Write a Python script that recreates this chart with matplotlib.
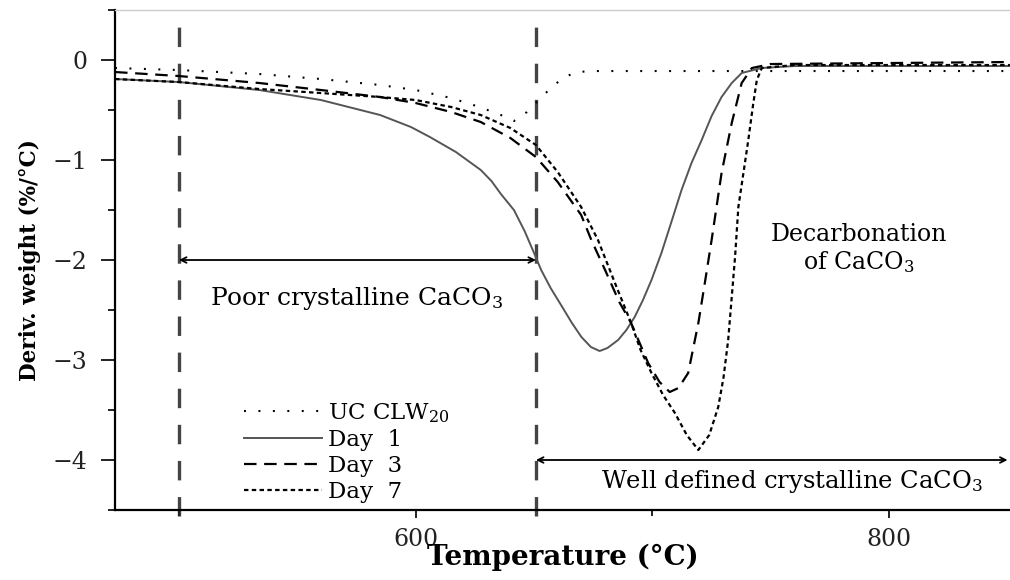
import matplotlib
matplotlib.use("Agg")
import matplotlib.pyplot as plt
from matplotlib.ticker import MultipleLocator

plt.rcParams['font.family'] = ['DejaVu Serif']
plt.rcParams['mathtext.fontset'] = 'dejavuserif'
plt.rcParams['lines.scale_dashes'] = False

# ---- data (temperature in °C, derivative weight in %/°C) ----
uc_T = [473, 500, 534, 560, 585, 600, 615, 627, 636, 641.5, 647, 654, 659, 663, 668, 675, 700, 851]
uc_D = [-0.08, -0.10, -0.14, -0.19, -0.25, -0.30, -0.38, -0.47, -0.55, -0.61, -0.52, -0.35, -0.24, -0.17, -0.12, -0.11, -0.11, -0.11]

d1_T = [473, 500, 534, 560, 585, 598, 606, 617, 627.5, 632, 636, 641.5, 646, 650, 653, 657, 661.4, 666, 670, 674, 677.7,
        681, 685.5, 689, 692.5, 696, 699.6, 703.8, 708, 712.3, 716.5, 720.8, 725, 729.2, 733.5, 737.7, 746, 760, 851]
d1_D = [-0.19, -0.22, -0.30, -0.40, -0.55, -0.67, -0.77, -0.92, -1.10, -1.21, -1.34, -1.50, -1.71, -1.93, -2.10, -2.28, -2.45, -2.63, -2.77, -2.87, -2.91,
        -2.88, -2.80, -2.70, -2.57, -2.40, -2.20, -1.93, -1.62, -1.30, -1.03, -0.80, -0.56, -0.37, -0.23, -0.13, -0.08, -0.06, -0.06]

d3_T = [473, 500, 534, 560, 585, 600, 615, 627.5, 640, 650.8, 660, 669.9, 674.2, 680, 686, 691, 698.2, 703, 707.3,
        711, 715.1, 719.4, 722, 725, 729.2, 733.5, 737.7, 742, 750, 851]
d3_D = [-0.12, -0.16, -0.23, -0.30, -0.37, -0.43, -0.52, -0.62, -0.78, -0.97, -1.22, -1.55, -1.80, -2.10, -2.42, -2.63, -3.03, -3.22, -3.32,
        -3.28, -3.13, -2.63, -2.25, -1.80, -1.13, -0.63, -0.23, -0.08, -0.04, -0.02]

d7_T = [473, 500, 534, 560, 585, 600, 615, 627.5, 640, 650.8, 660, 669.9, 677, 684, 691, 695, 699.6, 704.5, 709.5, 714.5, 719.4,
        724, 727.8, 730, 732, 734.9, 736.3, 738.5, 740.5, 742.5, 744.1, 746.2, 760, 851]
d7_D = [-0.19, -0.22, -0.29, -0.33, -0.37, -0.40, -0.47, -0.55, -0.68, -0.85, -1.12, -1.47, -1.80, -2.22, -2.63, -2.90, -3.13, -3.35, -3.53, -3.75, -3.90,
        -3.75, -3.47, -3.18, -2.80, -1.97, -1.47, -1.12, -0.80, -0.45, -0.20, -0.08, -0.05, -0.05]

labels = [r'UC CLW$_{20}$', 'Day  1', 'Day  3', 'Day  7']
boundaries = [500, 650.8]

fig = plt.figure(figsize=(10.1, 5.8), dpi=100)
ax = fig.add_axes([0.1139, 0.1207, 0.886, 0.862])

ax.plot(uc_T, uc_D, color='black', lw=1.5, dashes=(1.4, 9.0), label=labels[0])
ax.plot(d1_T, d1_D, color='#555555', lw=1.4, label=labels[1])
ax.plot(d3_T, d3_D, color='black', lw=1.6, dashes=(9.0, 5.5), label=labels[2])
ax.plot(d7_T, d7_D, color='black', lw=1.6, dashes=(3.2, 2.4), label=labels[3])

for b in boundaries:
    ax.axvline(b, color='#444444', lw=2.4, dashes=(14, 12), zorder=1, clip_on=False,
               ymin=-0.012, ymax=1.0)

ax.set_xlim(473, 851)
ax.set_ylim(-4.5, 0.5)
ax.xaxis.set_major_locator(MultipleLocator(200))
ax.xaxis.set_minor_locator(MultipleLocator(100))
ax.yaxis.set_major_locator(MultipleLocator(1))
ax.yaxis.set_minor_locator(MultipleLocator(0.5))
ax.tick_params(which='both', direction='out', width=1.4, labelsize=17, colors='#222222')
ax.tick_params(axis='y', which='major', length=10, pad=10)
ax.tick_params(axis='y', which='minor', length=5)
ax.tick_params(axis='x', which='major', length=6, pad=7)
ax.tick_params(axis='x', which='minor', length=4)
for s in ['left', 'bottom']:
    ax.spines[s].set_linewidth(1.6)
ax.spines['right'].set_visible(False)
ax.spines['top'].set_color('#cccccc')
ax.spines['top'].set_linewidth(1.0)

ax.set_xlabel('Temperature (°C)', fontsize=20, fontweight='bold', labelpad=-5)
ax.set_ylabel('Deriv. weight (%/°C)', fontsize=15.5, fontweight='bold', labelpad=8)

# annotations
ax.annotate('', xy=(500, -2.0), xytext=(650.8, -2.0),
            arrowprops=dict(arrowstyle='<->', color='black', lw=1.3, shrinkA=0, shrinkB=0))
ax.text(575, -2.38, r'Poor crystalline CaCO$_3$', fontsize=18, ha='center', va='center')
ax.annotate('', xy=(650.8, -4.0), xytext=(850, -4.0),
            arrowprops=dict(arrowstyle='<->', color='black', lw=1.3, shrinkA=0, shrinkB=0))
ax.text(759, -4.22, r'Well defined crystalline CaCO$_3$', fontsize=17.5, ha='center', va='center')
ax.text(787, -1.89, 'Decarbonation\n' + r'of CaCO$_3$', fontsize=17, ha='center', va='center',
        linespacing=1.15)

leg = ax.legend(loc='upper left', bbox_to_anchor=(0.134, 0.236), frameon=False, fontsize=16.5,
                handlelength=3.4, handletextpad=0.25, labelspacing=0.18, borderaxespad=0)

fig.savefig('out.png', dpi=100)
